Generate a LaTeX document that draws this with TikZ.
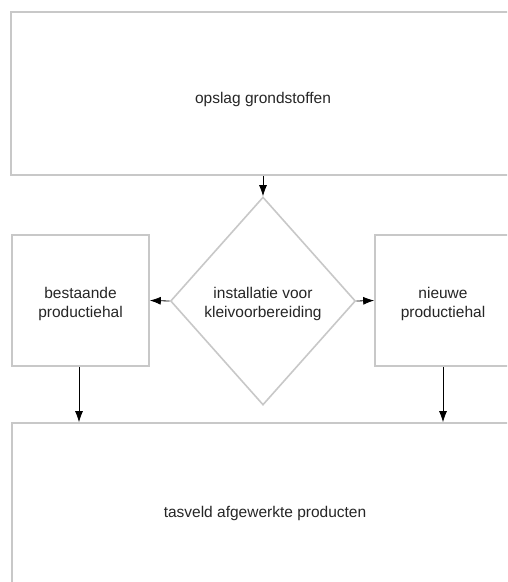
\documentclass[tikz,border=0pt]{standalone}
\usepackage{fontspec}
\setmainfont{Liberation Sans}
\usetikzlibrary{shapes.geometric,arrows.meta}
\definecolor{boxgray}{RGB}{200,200,200}
\tikzset{
  txt/.style={align=center, font=\fontsize{15.5}{19}\selectfont, text=black!85, inner sep=0pt},
  box/.style={draw=boxgray, line width=1.6pt, fill=white, inner sep=0pt},
  dia/.style={draw=boxgray, line width=1.6pt, diamond, inner sep=0pt},
  arr/.style={-{Latex[length=11pt,width=8pt]}, line width=0.8pt, black}
}
\begin{document}
\begin{tikzpicture}[x=1pt,y=-1pt]
\useasboundingbox (0,0) rectangle (507,582);
\fill[white] (0,0) rectangle (507,582);
\clip (0,0) rectangle (507,582);
\node[box, minimum width=504pt, minimum height=163pt,
  label={[txt, yshift=-6pt]center:opslag grondstoffen}] (top) at (263,93.5) {};
\node[dia, minimum width=185pt, minimum height=208pt,
  label={[txt, yshift=-3pt]center:installatie voor\\kleivoorbereiding}] (dia) at (263,301) {};
\node[box, minimum width=137pt, minimum height=131pt,
  label={[txt, yshift=-3pt]center:bestaande\\productiehal}] (left) at (80.5,300.5) {};
\node[box, minimum width=136pt, minimum height=131pt,
  label={[txt, yshift=-3pt]center:nieuwe\\productiehal}] (right) at (443,300.5) {};
\node[box, minimum width=506pt, minimum height=176pt,
  label={[txt, yshift=-2pt]center:tasveld afgewerkte producten}] (bot) at (265,511) {};
\draw[arr] (top.south) -- (dia.north);
\draw[arr] (dia.west) -- (left.east);
\draw[arr] (dia.east) -- (right.west);
\draw[arr] (left.south -| 79,0) -- (79,0 |- bot.north);
\draw[arr] (right.south -| 443,0) -- (443,0 |- bot.north);
\end{tikzpicture}
\end{document}
